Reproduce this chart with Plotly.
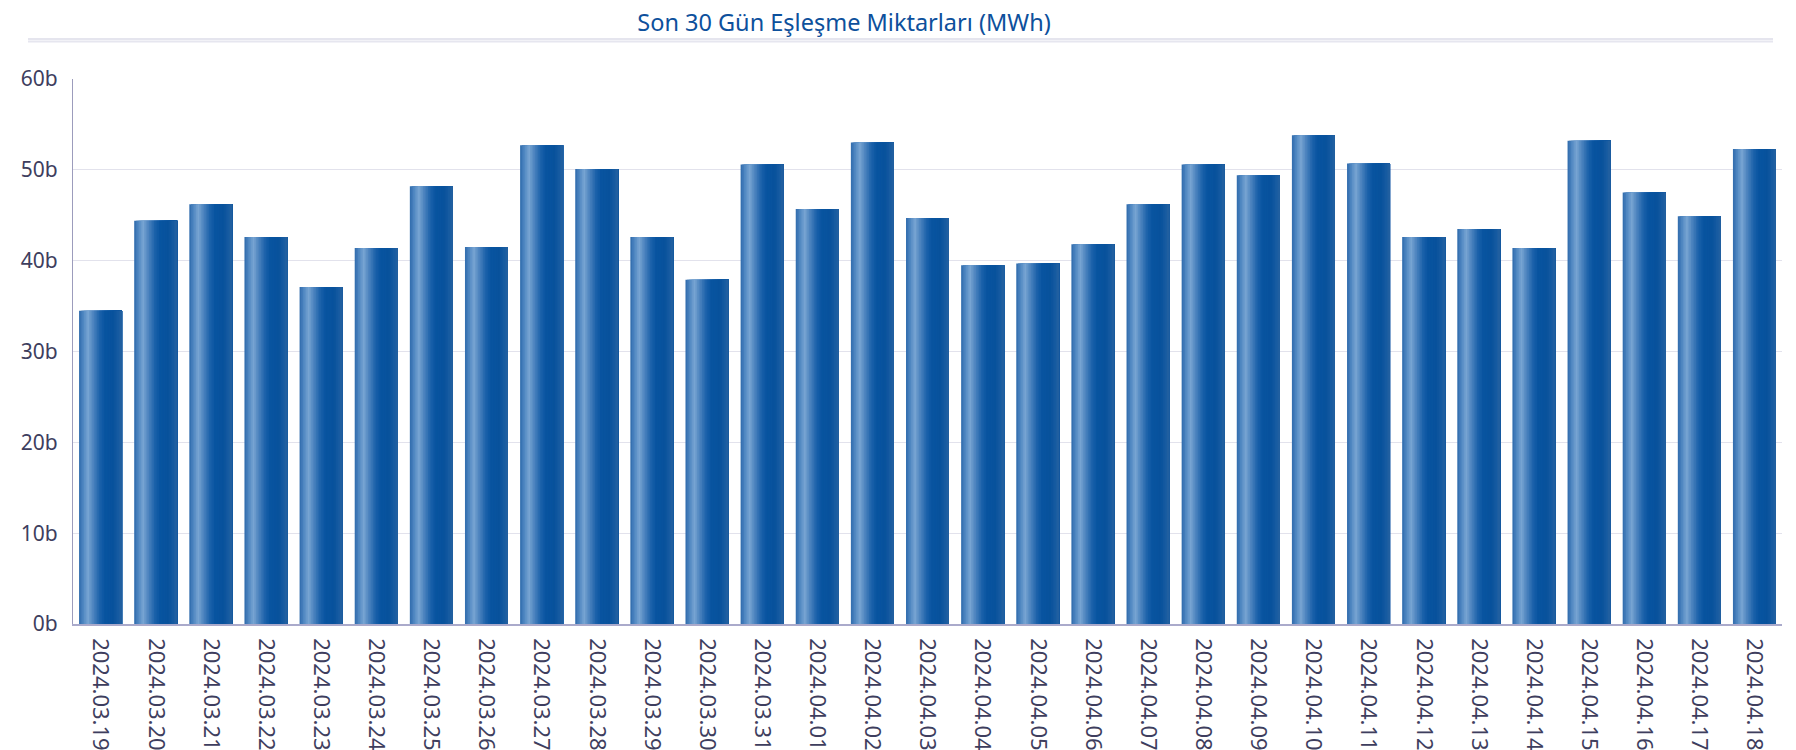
import plotly.graph_objects as go

dates = ["2024.03.19", "2024.03.20", "2024.03.21", "2024.03.22", "2024.03.23", "2024.03.24",
         "2024.03.25", "2024.03.26", "2024.03.27", "2024.03.28", "2024.03.29", "2024.03.30",
         "2024.03.31", "2024.04.01", "2024.04.02", "2024.04.03", "2024.04.04", "2024.04.05",
         "2024.04.06", "2024.04.07", "2024.04.08", "2024.04.09", "2024.04.10", "2024.04.11",
         "2024.04.12", "2024.04.13", "2024.04.14", "2024.04.15", "2024.04.16", "2024.04.17",
         "2024.04.18"]
# values in thousands of MWh ("b" = bin)
values = [34.5, 44.4, 46.2, 42.6, 37.1, 41.4, 48.2, 41.5, 52.7, 50.1, 42.6, 37.9,
          50.6, 45.7, 53.0, 44.7, 39.5, 39.7, 41.8, 46.2, 50.6, 49.4, 53.8, 50.7,
          42.6, 43.5, 41.4, 53.2, 47.5, 44.9, 52.3]
y_ticks = [0, 10, 20, 30, 40, 50, 60]
y_tick_text = ["0b", "10b", "20b", "30b", "40b", "50b", "60b"]
title_text = "Son 30 Gün Eşleşme Miktarları (MWh)"

# the page body has an 8px default margin; layout coordinates are compensated for it
W, H = 1796, 750
ML, MR, MT, MB = 65, 22, 71, 134

# horizontal gradient stops across a bar (fraction, rgb)
stops = [(0.00, (46, 106, 172)), (0.10, (80, 136, 194)), (0.21, (120, 164, 210)),
         (0.32, (80, 134, 192)), (0.48, (28, 98, 170)), (0.60, (8, 84, 160)),
         (0.80, (8, 82, 156)), (0.92, (24, 92, 162)), (1.00, (34, 96, 160))]


def color_at(t):
    for (t0, c0), (t1, c1) in zip(stops[:-1], stops[1:]):
        if t0 <= t <= t1:
            f = (t - t0) / (t1 - t0) if t1 > t0 else 0
            c = [round(a + (b - a) * f) for a, b in zip(c0, c1)]
            return "rgb(%d,%d,%d)" % tuple(c)
    return "rgb(%d,%d,%d)" % stops[-1][1]


BW = 0.78   # bar width in category units
N = 26
fig = go.Figure()
for i in range(N):
    start = -BW / 2 + i * BW / N
    fig.add_trace(go.Bar(
        x=dates, y=values,
        offset=start, width=BW - i * BW / N,
        marker=dict(color=color_at((i + 0.5) / N), line=dict(width=0)),
        showlegend=False, hoverinfo="skip" if i else None,
    ))

tick_color = "#3e3e5e"
fig.update_layout(
    width=W, height=H,
    margin=dict(l=ML, r=MR, t=MT, b=MB, pad=0, autoexpand=False),
    paper_bgcolor="white", plot_bgcolor="white",
    barmode="overlay",
    font=dict(family="Noto Sans", color=tick_color),
    title=dict(text=title_text, x=836 / W, xref="container", xanchor="center",
               y=1 - 14.5 / H, yref="container", yanchor="middle",
               font=dict(family="Noto Sans", size=23.5, color="#0d509c")),
    xaxis=dict(type="category", tickangle=90, tickfont=dict(size=22, color=tick_color),
               showgrid=False, showline=True, linecolor="#aaaacb", linewidth=1.5,
               ticks="", ticklabelstandoff=8, range=[-0.5, len(dates) - 0.5],
               automargin=False),
    yaxis=dict(range=[0, 60], tickmode="array", tickvals=y_ticks, ticktext=y_tick_text,
               tickfont=dict(size=21, color=tick_color),
               showgrid=True, gridcolor="#e2e2ec", gridwidth=1,
               zeroline=False, showline=True, linecolor="#9c9cbc", linewidth=1,
               ticks="", ticklabelstandoff=10, automargin=False),
)

# double separator line under the title
pw = W - ML - MR
ph = H - MT - MB
def px_x(p):
    return (p - ML) / pw
def px_y(p):
    return (H - MB - p) / ph

fig.add_shape(type="line", xref="paper", yref="paper",
              x0=px_x(20), x1=px_x(1765), y0=px_y(31), y1=px_y(31),
              line=dict(color="#dcdce8", width=1.5))
fig.add_shape(type="line", xref="paper", yref="paper",
              x0=px_x(20), x1=px_x(1765), y0=px_y(33.5), y1=px_y(33.5),
              line=dict(color="#e6e6ef", width=2))

fig.write_html("out.html")
